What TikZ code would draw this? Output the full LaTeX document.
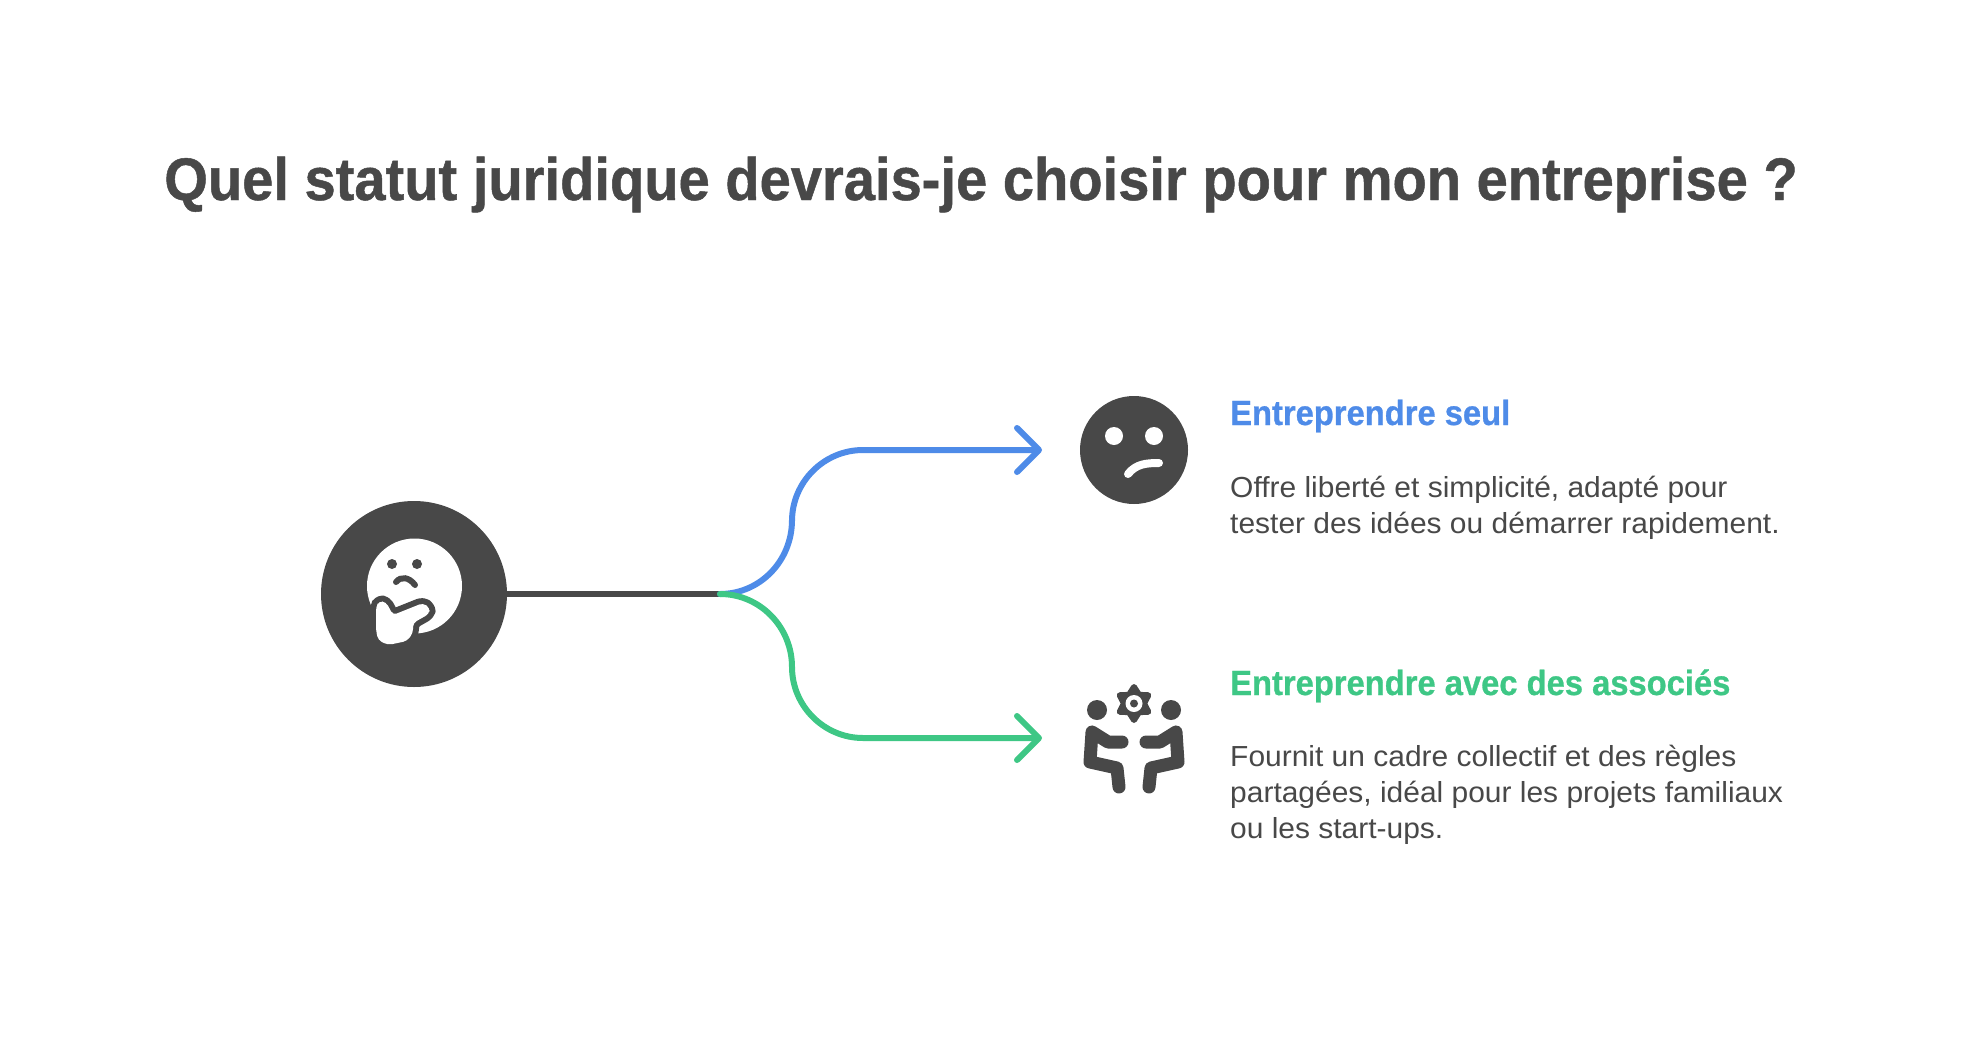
\documentclass[tikz,border=0pt]{standalone}
\usepackage{fontspec}
\setmainfont{Liberation Sans}[FakeStretch=1.033,BoldFeatures={FakeStretch=0.935,FakeBold=0.8}]
\usetikzlibrary{arrows.meta}
\definecolor{ink}{HTML}{484848}
\definecolor{bleu}{HTML}{4E8BE8}
\definecolor{vert}{HTML}{3EC785}
\newcommand{\mainpath}{(376,607) -- (379,601) -- (386,602) -- (393,615) -- (423,603) -- (430,608) -- (429,614) -- (413,623) -- (413,633) -- (407,641) -- (388,645) -- (378,640) -- (376,630) -- cycle}
\tikzset{
  titre/.style={anchor=base, inner sep=0, text=ink, font=\fontsize{60}{66}\selectfont\bfseries},
  entete/.style={anchor=base west, inner sep=0, font=\fontsize{35}{40}\selectfont\bfseries},
  corps/.style={anchor=base west, inner sep=0, text=ink, font=\fontsize{29}{36}\selectfont},
  branche/.style={line width=6, line cap=round, line join=round, -{Straight Barb[round,length=22,width=44]}},
}
\begin{document}
\begin{tikzpicture}[x=1pt,y=-1pt]
  \useasboundingbox (0,0) rectangle (1962,1044);
  % titre
  \node[titre] (titre) at (981,200) {Quel statut juridique devrais-je choisir pour mon entreprise ?};
  % racine
  \node[circle, fill=ink, minimum size=186, inner sep=0] (racine) at (414,594) {};
  \fill[white] (414.5,586) circle (47.5);
  \fill[ink] (392,564) circle (5);
  \fill[ink] (417,564) circle (5);
  \draw[ink, line width=6, line cap=round] (396,582) .. controls (401,576) and (409,577) .. (415,585);
  \draw[ink, line width=12, line join=round, rounded corners=4] \mainpath;
  \fill[white, rounded corners=4] \mainpath;
  % fourche
  \coordinate (fourche) at (720,594);
  \coordinate (sortieA) at (1042,450);
  \coordinate (sortieB) at (1042,738);
  \draw[ink, line width=6] (racine) -- (fourche);
  \draw[branche, bleu] (fourche) .. controls (760,594) and (792,561) .. (792,520) -- (792,521) .. controls (792,482) and (824,450) .. (863,450) -- (sortieA);
  \draw[branche, vert] (fourche) .. controls (760,594) and (792,627) .. (792,667) .. controls (792,706) and (824,738) .. (863,738) -- (sortieB);
  % visage
  \node[circle, fill=ink, minimum size=108, inner sep=0] (visage) at (1134,450) {};
  \fill[white] (1114,436) circle (9);
  \fill[white] (1154,436) circle (9);
  \draw[white, line width=8, line cap=round] (1128,474) .. controls (1136,464) and (1146,463) .. (1159,463);
  % associes
  \begin{scope}[ink]
  \fill (1097,710) circle (10);
  \fill (1171,710) circle (10);
  \begin{scope}[shift={(1134,703.5)}]
  \draw[fill, line width=6, line join=round] (30:16.5) -- (60:10) -- (90:16.5) -- (120:10) -- (150:16.5) -- (180:10) -- (210:16.5) -- (240:10) -- (270:16.5) -- (300:10) -- (330:16.5) -- (0:10) -- cycle;
  \fill[white] (0,0) circle (8.5);
  \fill (0,0) circle (4);
  \end{scope}
  \draw[line width=13, line cap=round, line join=round] (1122,742) -- (1108,742) -- (1092,732) -- (1090,762) -- (1117,768) -- (1119,787);
  \draw[line width=13, line cap=round, line join=round] (1146,742) -- (1160,742) -- (1176,732) -- (1178,762) -- (1151,768) -- (1149,787);
  \end{scope}
  % textes
  \node[entete, text=bleu] (seul) at (1230,425) {Entreprendre seul};
  \node[corps] (seulA) at (1230,497) {Offre liberté et simplicité, adapté pour};
  \node[corps] (seulB) at (1230,533) {tester des idées ou démarrer rapidement.};
  \node[entete, text=vert] (assoc) at (1230,695) {Entreprendre avec des associés};
  \node[corps] (assocA) at (1230,766) {Fournit un cadre collectif et des règles};
  \node[corps] (assocB) at (1230,802) {partagées, idéal pour les projets familiaux};
  \node[corps] (assocC) at (1230,838) {ou les start-ups.};
\end{tikzpicture}
\end{document}
